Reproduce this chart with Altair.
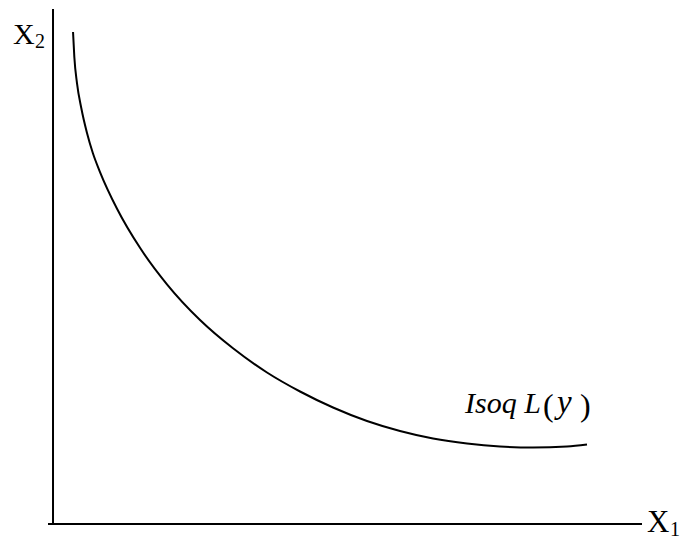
import altair as alt
import pandas as pd

# Isoquant L(y): input bundles (x1, x2) producing the same output y
iso_x1 = [3.40, 3.62, 4.07, 4.80, 5.77, 6.76, 7.98, 10.87, 14.77, 19.35,
          24.96, 30.56, 36.33, 41.94, 47.54, 53.31, 58.91, 64.52, 70.29,
          75.89, 81.49, 87.27, 90.66]
iso_x2 = [95.53, 90.68, 85.63, 80.78, 75.92, 72.04, 68.35, 61.22, 53.63,
          46.54, 39.61, 34.12, 29.42, 25.73, 22.62, 20.00, 18.06, 16.60,
          15.63, 15.05, 14.85, 15.05, 15.44]

# Axis lines (origin at 0, 0): vertical X2 axis, horizontal X1 axis
axis_x = [0.0, -0.85]
axis_y = [100.0, 0.0]
axis_x_end = [0.0, 100.0]
axis_y_end = [0.0, 0.0]

# Axis names: main letters and subscripts
label_text = ["X", "2", "X", "1"]
label_x = [-6.8, -3.06, 100.85, 104.75]
label_y = [93.2, 92.4, -1.55, -2.33]
label_size = [30, 20, 31, 20]

# Curve name "Isoq L(y)"
curve_label_text = ["Isoq L", "(", "y", ")"]
curve_label_x = [69.95, 83.2, 85.57, 89.47]
curve_label_y = [21.5, 20.9, 21.5, 20.9]
curve_label_style = ["italic", "normal", "italic", "normal"]
curve_label_size = [30, 32, 33, 32]

W, H = 689, 539
xs = alt.Scale(domain=[-9.0, 107.98], range=[0, W], nice=False, zero=False)
ys = alt.Scale(domain=[-2.91, 101.75], range=[H, 0], nice=False, zero=False)

curve_df = pd.DataFrame({"x1": iso_x1, "x2": iso_x2})
curve = alt.Chart(curve_df).mark_line(
    color="black", strokeWidth=2, interpolate="monotone"
).encode(
    x=alt.X("x1:Q", scale=xs, axis=None),
    y=alt.Y("x2:Q", scale=ys, axis=None),
)

axes_df = pd.DataFrame({
    "x": axis_x, "y": axis_y, "x2": axis_x_end, "y2": axis_y_end,
})
axes = alt.Chart(axes_df).mark_rule(color="black", strokeWidth=2).encode(
    x=alt.X("x:Q", scale=xs, axis=None),
    y=alt.Y("y:Q", scale=ys, axis=None),
    x2="x2:Q",
    y2="y2:Q",
)

labels_df = pd.DataFrame({
    "t": label_text, "x": label_x, "y": label_y, "s": label_size,
})
labels = alt.Chart(labels_df).mark_text(
    font="Liberation Serif", align="left", baseline="alphabetic", color="black"
).encode(
    x=alt.X("x:Q", scale=xs, axis=None),
    y=alt.Y("y:Q", scale=ys, axis=None),
    text="t:N",
    size=alt.Size("s:Q", scale=None, legend=None),
)

layers = [axes, curve, labels]
for t, x, y, st, sz in zip(curve_label_text, curve_label_x, curve_label_y,
                           curve_label_style, curve_label_size):
    df = pd.DataFrame({"t": [t], "x": [x], "y": [y]})
    layers.append(
        alt.Chart(df).mark_text(
            font="Liberation Serif", fontStyle=st, fontSize=sz,
            align="left", baseline="alphabetic", color="black",
        ).encode(
            x=alt.X("x:Q", scale=xs, axis=None),
            y=alt.Y("y:Q", scale=ys, axis=None),
            text="t:N",
        )
    )

chart = alt.layer(*layers).properties(
    width=W, height=H,
    autosize=alt.AutoSizeParams(type="none"),
    padding=0,
    background="white",
).configure_view(stroke=None)

chart.save("out.html", embed_options={"renderer": "svg", "actions": False})
